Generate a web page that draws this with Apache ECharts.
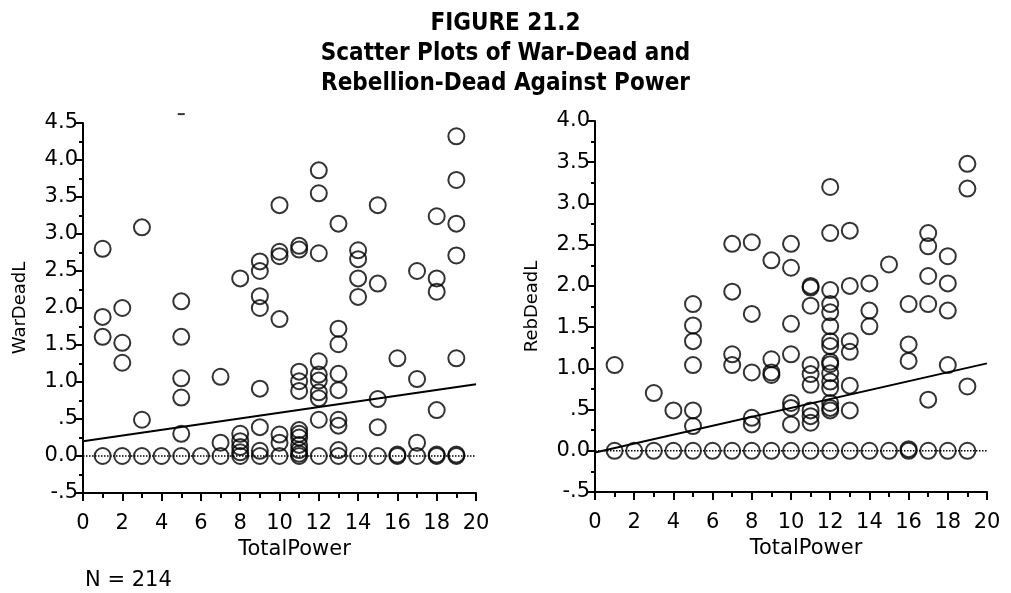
<!DOCTYPE html>
<html>
<head>
<meta charset="utf-8">
<script src="https://cdn.jsdelivr.net/npm/echarts@6/dist/echarts.min.js"></script>
<style>
html, body {margin: 0; padding: 0; background: #fff;}
#main {width: 1011px; height: 593px;}
</style>
</head>
<body>
<div id="main"></div>
<script>
// 数据: [TotalPower, value]
var powerTicks = [0, 2, 4, 6, 8, 10, 12, 14, 16, 18, 20];

var warDead = [
    [1, 2.80], [1, 1.88], [1, 1.61], [1, 0],
    [2, 2.00], [2, 1.53], [2, 1.26], [2, 0],
    [3, 3.09], [3, 0.49], [3, 0],
    [4, 0],
    [5, 2.09], [5, 1.61], [5, 1.05], [5, 0.79], [5, 0.30], [5, 0],
    [6, 0],
    [7, 1.07], [7, 0.18], [7, 0],
    [8, 2.40], [8, 0.30], [8, 0.20], [8, 0.12], [8, 0.05], [8, 0],
    [9, 2.63], [9, 2.50], [9, 2.16], [9, 2.00], [9, 0.91], [9, 0.39], [9, 0.07], [9, 0],
    [10, 3.39], [10, 2.76], [10, 2.70], [10, 1.85], [10, 0.29], [10, 0.18], [10, 0],
    [11, 2.84], [11, 2.79], [11, 1.14], [11, 1.01], [11, 0.88], [11, 0.35], [11, 0.30], [11, 0.25], [11, 0.15], [11, 0.08], [11, 0.03], [11, 0],
    [12, 3.86], [12, 3.55], [12, 2.74], [12, 1.28], [12, 1.10], [12, 1.02], [12, 0.86], [12, 0.78], [12, 0.49], [12, 0],
    [13, 3.14], [13, 1.72], [13, 1.51], [13, 1.11], [13, 0.89], [13, 0.49], [13, 0.41], [13, 0.08], [13, 0],
    [14, 2.78], [14, 2.66], [14, 2.40], [14, 2.15], [14, 0],
    [15, 3.39], [15, 2.33], [15, 0.77], [15, 0.39], [15, 0],
    [16, 1.32], [16, 0.02], [16, 0],
    [17, 2.50], [17, 1.04], [17, 0.18], [17, 0],
    [18, 3.24], [18, 2.40], [18, 2.22], [18, 0.62], [18, 0.02], [18, 0],
    [19, 4.32], [19, 3.73], [19, 3.14], [19, 2.71], [19, 1.32], [19, 0.02], [19, 0]
];

var rebDead = [
    [1, 1.04], [1, 0],
    [2, 0],
    [3, 0.70], [3, 0],
    [4, 0.49], [4, 0],
    [5, 1.78], [5, 1.52], [5, 1.33], [5, 1.04], [5, 0.49], [5, 0.30], [5, 0],
    [6, 0],
    [7, 2.51], [7, 1.93], [7, 1.17], [7, 1.04], [7, 0],
    [8, 2.53], [8, 1.66], [8, 0.95], [8, 0.40], [8, 0.32], [8, 0],
    [9, 2.31], [9, 1.11], [9, 0.95], [9, 0.92], [9, 0],
    [10, 2.51], [10, 2.22], [10, 1.54], [10, 1.17], [10, 0.58], [10, 0.52], [10, 0.32], [10, 0],
    [11, 2.00], [11, 1.98], [11, 1.76], [11, 1.04], [11, 0.93], [11, 0.80], [11, 0.49], [11, 0.42], [11, 0.34], [11, 0],
    [12, 3.20], [12, 2.64], [12, 1.95], [12, 1.78], [12, 1.68], [12, 1.51], [12, 1.33], [12, 1.27], [12, 1.08], [12, 1.05], [12, 0.94], [12, 0.84], [12, 0.76], [12, 0.58], [12, 0.52], [12, 0.49], [12, 0],
    [13, 2.67], [13, 2.00], [13, 1.33], [13, 1.20], [13, 0.79], [13, 0.49], [13, 0],
    [14, 2.03], [14, 1.70], [14, 1.51], [14, 0],
    [15, 2.26], [15, 0],
    [16, 1.78], [16, 1.29], [16, 1.09], [16, 0.02], [16, 0],
    [17, 2.64], [17, 2.48], [17, 2.12], [17, 1.78], [17, 0.62], [17, 0],
    [18, 2.36], [18, 2.03], [18, 1.70], [18, 1.04], [18, 0],
    [19, 3.48], [19, 3.18], [19, 0.78], [19, 0]
];

// 回归线端点
var warFit = [[0, 0.20], [20, 0.97]];
var rebFit = [[0, -0.02], [20, 1.06]];
var zeroLine = [[0, 0], [20, 0]];
// 超出上限的点 (图中的短横)
var warOffScale = [[5, 4.62]];

var labelFont = 'DejaVu Sans';

function yFmt(v) {
    var s = v.toFixed(1);
    if (v !== 0 && Math.abs(v) < 1) {
        s = s.replace('0.', '.');
    }
    return s;
}

function makeX(idx) {
    return {
        type: 'value', gridIndex: idx, min: 0, max: 20, interval: 2,
        name: 'TotalPower', nameLocation: 'middle', nameGap: 42,
        nameTextStyle: {color: '#000', fontFamily: labelFont, fontSize: 21, padding: [0, 0, 0, 30]},
        axisLine: {onZero: false, lineStyle: {color: '#000', width: 2}},
        axisTick: {length: 8, lineStyle: {color: '#000', width: 2}},
        minorTick: {show: true, splitNumber: 2, length: 5, lineStyle: {color: '#000', width: 2}},
        axisLabel: {color: '#000', fontFamily: labelFont, fontSize: 21, margin: 20},
        splitLine: {show: false}
    };
}

function makeY(idx, name, max) {
    return {
        type: 'value', gridIndex: idx, min: -0.5, max: max, interval: 0.5,
        name: name, nameLocation: 'middle', nameGap: 54,
        nameTextStyle: {color: '#000', fontFamily: labelFont, fontSize: 18},
        axisLine: {onZero: false, lineStyle: {color: '#000', width: 2}},
        axisTick: {length: 7, lineStyle: {color: '#000', width: 2}},
        minorTick: {show: true, splitNumber: 2, length: 4, lineStyle: {color: '#000', width: 2}},
        axisLabel: {color: '#000', fontFamily: labelFont, fontSize: 21, margin: 5, formatter: yFmt},
        splitLine: {show: false}
    };
}

var circleStyle = {color: 'transparent', borderColor: '#000', borderWidth: 2};

function scatterSeries(idx, data) {
    return {
        type: 'scatter', xAxisIndex: idx, yAxisIndex: idx, data: data,
        symbol: 'circle', symbolSize: 16, itemStyle: circleStyle,
        silent: true, z: 3
    };
}

function lineSeries(idx, data, type, width) {
    return {
        type: 'line', xAxisIndex: idx, yAxisIndex: idx, data: data,
        symbol: 'none', silent: true, animation: false,
        lineStyle: {color: '#000', width: width, type: type}, z: 2
    };
}

var option = {
    animation: false,
    backgroundColor: '#fff',
    title: [{
        text: 'FIGURE 21.2\nScatter Plots of War-Dead and\nRebellion-Dead Against Power',
        left: 'center', top: 4,
        textStyle: {
            color: '#000', fontFamily: 'DejaVu Sans Condensed', fontWeight: 'bold',
            fontSize: 24, lineHeight: 30
        }
    }, {
        text: 'N = 214', left: 80, top: 565,
        textStyle: {color: '#000', fontFamily: labelFont, fontWeight: 'normal', fontSize: 21}
    }],
    grid: [
        {left: 83, top: 123, width: 393, height: 370},
        {left: 595, top: 121, width: 392, height: 371}
    ],
    xAxis: [makeX(0), makeX(1)],
    yAxis: [makeY(0, 'WarDeadL', 4.5), makeY(1, 'RebDeadL', 4.0)],
    series: [
        lineSeries(0, zeroLine, 'dotted', 1.5),
        lineSeries(0, warFit, 'solid', 2),
        scatterSeries(0, warDead),
        {
            type: 'scatter', xAxisIndex: 0, yAxisIndex: 0, data: warOffScale,
            symbol: 'rect', symbolSize: [7, 2], clip: false,
            itemStyle: {color: '#000'}, silent: true
        },
        lineSeries(1, zeroLine, 'dotted', 1.5),
        lineSeries(1, rebFit, 'solid', 2),
        scatterSeries(1, rebDead)
    ]
};

var myChart = echarts.init(document.getElementById('main'));
myChart.setOption(option);
</script>
</body>
</html>
